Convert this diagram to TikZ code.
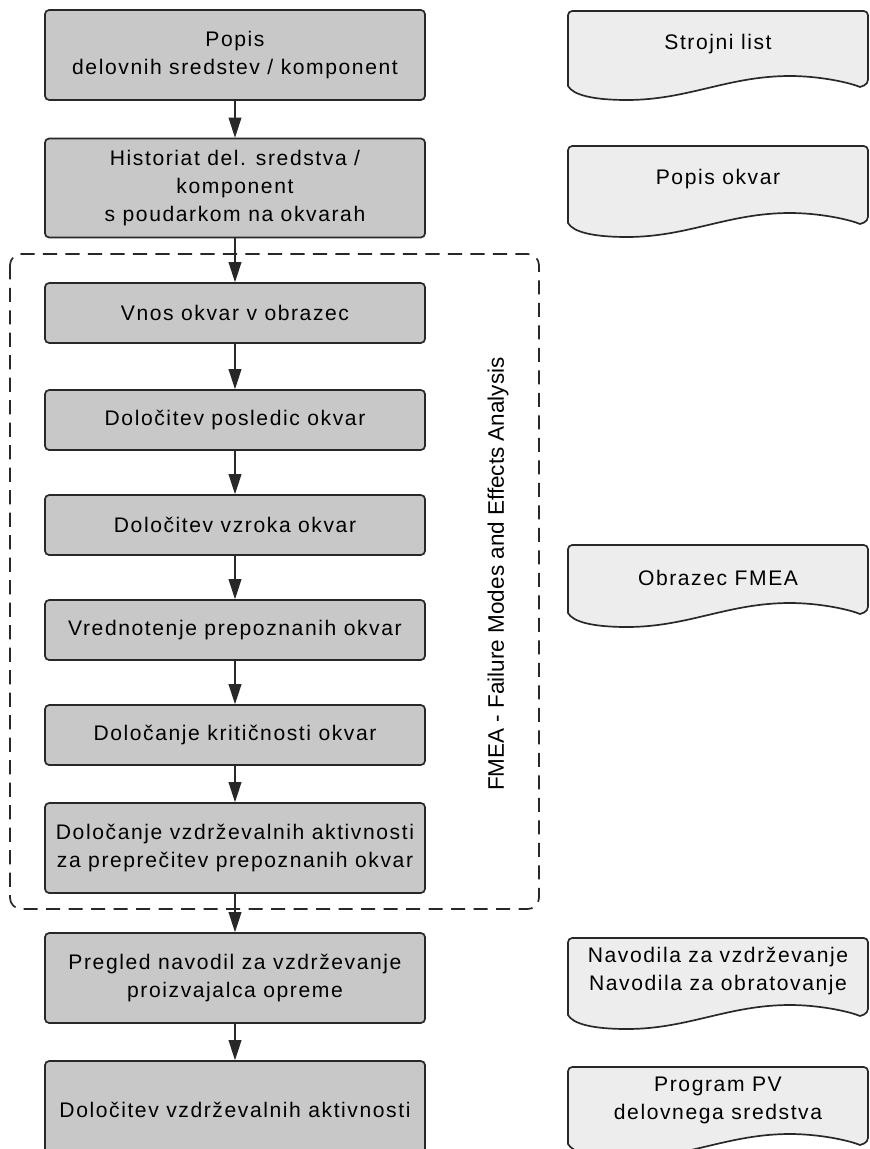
\documentclass[tikz,border=0pt]{standalone}
\usepackage{fontspec}
\setmainfont{Liberation Sans}[LetterSpace=7.5]
\newfontfamily\napisfont{Liberation Sans}
\usetikzlibrary{arrows.meta}

\definecolor{sivo}{RGB}{200,200,200}
\definecolor{svetlo}{RGB}{237,237,237}
\definecolor{crta}{RGB}{40,40,40}

\tikzset{korak/.style={draw=crta,fill=sivo,line width=1.2pt,rounded corners=3pt,minimum width=9.5cm,minimum height=1.5cm,align=center,inner sep=2pt},
    puscica/.style={draw=crta,line width=1pt,-{Triangle[length=0.5cm,width=0.32cm]}},
    dokument/.style={draw=crta,fill=svetlo,line width=1.2pt},
    doktekst/.style={align=center},
    okvir/.style={draw=crta,line width=1.2pt,rounded corners=8pt,dash pattern=on 10pt off 6pt},
    oznaka/.style={rotate=90,font=\napisfont\fontsize{16pt}{19pt}\selectfont}}

% ime, x, y (zgoraj), visina, besedilo
\newcommand{\Dokument}[5]{%
    \draw[dokument] (#2,#3+#4-14) [rounded corners=3pt] -- (#2,#3) -- (#2+300,#3) -- (#2+300,#3+#4-16) [sharp corners]
        -- (#2+292,#3+#4-13) .. controls (#2+280,#3+#4-18) and (#2+250,#3+#4-24) .. (#2+222,#3+#4-24)
        .. controls (#2+160,#3+#4-24) and (#2+120,#3+#4) .. (#2+59,#3+#4)
        .. controls (#2+25,#3+#4) and (#2+5,#3+#4-5) .. cycle;
    \node[doktekst] (#1) at (#2+150,#3+33) {#5};}

\begin{document}
\begin{tikzpicture}[x=0.025cm,y=-0.025cm,font=\fontsize{15pt}{20pt}\selectfont]
\useasboundingbox (0,0) rectangle (869,1149);
    % FMEA
    \draw[okvir] (10,254) rectangle (539,909);
    \node[oznaka] (fmea) at (498,574) {FMEA - Failure Modes and Effects Analysis};
    % koraki
    \node[korak,minimum height=2.25cm] (popis) at (235,55) {Popis\\delovnih sredstev / komponent};
    \node[korak,minimum height=2.475cm] (historiat) at (235,188) {Historiat del. sredstva /\\komponent\\s poudarkom na okvarah};
    \node[korak] (vnos) at (235,313) {Vnos okvar v obrazec};
    \node[korak] (posledice) at (235,420) {Določitev posledic okvar};
    \node[korak] (vzrok) at (235,525) {Določitev vzroka okvar};
    \node[korak] (vrednotenje) at (235,630) {Vrednotenje prepoznanih okvar};
    \node[korak] (kriticnost) at (235,735) {Določanje kritičnosti okvar};
    \node[korak,minimum height=2.25cm] (ukrepi) at (235,848) {Določanje vzdrževalnih aktivnosti\\za preprečitev prepoznanih okvar};
    \node[korak,minimum height=2.25cm] (pregled) at (235,978) {Pregled navodil za vzdrževanje\\proizvajalca opreme};
    \node[korak,minimum height=2.45cm] (aktivnosti) at (235,1110) {Določitev vzdrževalnih aktivnosti};
    \foreach \a/\b in {popis/historiat,historiat/vnos,vnos/posledice,posledice/vzrok,vzrok/vrednotenje,
        vrednotenje/kriticnost,kriticnost/ukrepi,ukrepi/pregled,pregled/aktivnosti}
        \draw[puscica] (\a) -- (\b);
    % dokumenti
    \Dokument{strojni}{568}{11}{89}{Strojni list}
    \Dokument{okvare}{568}{146}{91}{Popis okvar}
    \Dokument{obrazec}{568}{545}{82}{Obrazec FMEA}
    \Dokument{navodila}{568}{938}{91}{Navodila za vzdrževanje\\Navodila za obratovanje}
    \Dokument{program}{568}{1067}{91}{Program PV\\delovnega sredstva}
\end{tikzpicture}
\end{document}
